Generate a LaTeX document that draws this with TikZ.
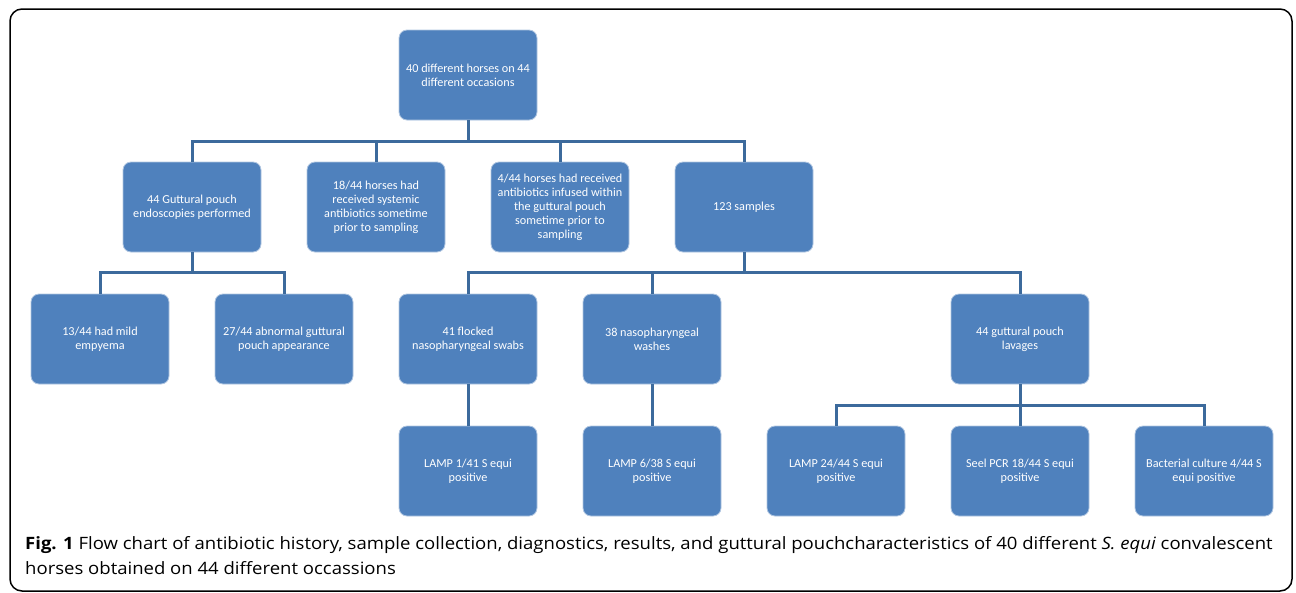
\documentclass[tikz,border=0pt]{standalone}
\usepackage{fontspec}
\setmainfont{Carlito}
\newfontfamily\capfont[FakeStretch=1.09]{Open Sans}
\definecolor{boxblue}{HTML}{4F81BD}
\definecolor{lineblue}{HTML}{3C6A9C}
\tikzset{
  fbox/.style={draw=white!55!boxblue, line width=0.8pt, fill=boxblue, rounded corners=8pt,
    minimum width=138pt, minimum height=90pt, text=white, align=center,
    font=\fontsize{12.2}{14}\selectfont},
  link/.style={draw=lineblue, line width=3pt}
}
\begin{document}
\begin{tikzpicture}[x=1pt, y=-1pt]
 \useasboundingbox (0,0) rectangle (1296,592);
 \draw [line width=1.5pt, rounded corners=12pt] (10,9) rectangle (1292,591);

 \node [fbox] (top) at (468,75) {40 different horses on 44\\different occasions};

 \node [fbox] (gpe) at (192,207) {44 Guttural pouch\\endoscopies performed};
 \node [fbox] (sys) at (376,207) {18/44 horses had\\received systemic\\antibiotics sometime\\prior to sampling};
 \node [fbox] (inf) at (560,207) {4/44 horses had received\\antibiotics infused within\\the guttural pouch\\sometime prior to\\sampling};
 \node [fbox] (samp) at (744,207) {123 samples};

 \node [fbox] (mild) at (100,339) {13/44 had mild\\empyema};
 \node [fbox] (abn) at (284,339) {27/44 abnormal guttural\\pouch appearance};
 \node [fbox] (swab) at (468,339) {41 flocked\\nasopharyngeal swabs};
 \node [fbox] (wash) at (652,339) {38 nasopharyngeal\\washes};
 \node [fbox] (lav) at (1020,339) {44 guttural pouch\\lavages};

 \node [fbox] (lamps) at (468,471) {LAMP 1/41 S equi\\positive};
 \node [fbox] (lampw) at (652,471) {LAMP 6/38 S equi\\positive};
 \node [fbox] (lampl) at (836,471) {LAMP 24/44 S equi\\positive};
 \node [fbox] (pcr) at (1020,471) {Seel PCR 18/44 S equi\\positive};
 \node [fbox] (cult) at (1204,471) {Bacterial culture 4/44 S\\equi positive};

 % tree connectors
 \draw [link] (top.south) -- (468,141);
 \draw [link] (gpe.north) |- (samp.north |- 0,141) -- (samp.north);
 \draw [link] (sys.north) -- (sys.north |- 0,141);
 \draw [link] (inf.north) -- (inf.north |- 0,141);

 \draw [link] (gpe.south) -- (192,272);
 \draw [link] (mild.north) |- (abn.north |- 0,272) -- (abn.north);

 \draw [link] (samp.south) -- (744,272);
 \draw [link] (swab.north) |- (lav.north |- 0,272) -- (lav.north);
 \draw [link] (wash.north) -- (wash.north |- 0,272);

 \draw [link] (swab.south) -- (lamps.north);
 \draw [link] (wash.south) -- (lampw.north);

 \draw [link] (lav.south) -- (1020,405);
 \draw [link] (lampl.north) |- (cult.north |- 0,405) -- (cult.north);
 \draw [link] (pcr.north) -- (pcr.north |- 0,405);

 \node [anchor=base west, align=left, font=\capfont\fontsize{17}{25}\selectfont, inner sep=0pt] (cap) at (25,574)
  {{\bfseries Fig. 1} Flow chart of antibiotic history, sample collection, diagnostics, results, and guttural pouchcharacteristics of 40 different \emph{S. equi} convalescent\\
   horses obtained on 44 different occassions};
\end{tikzpicture}
\end{document}
